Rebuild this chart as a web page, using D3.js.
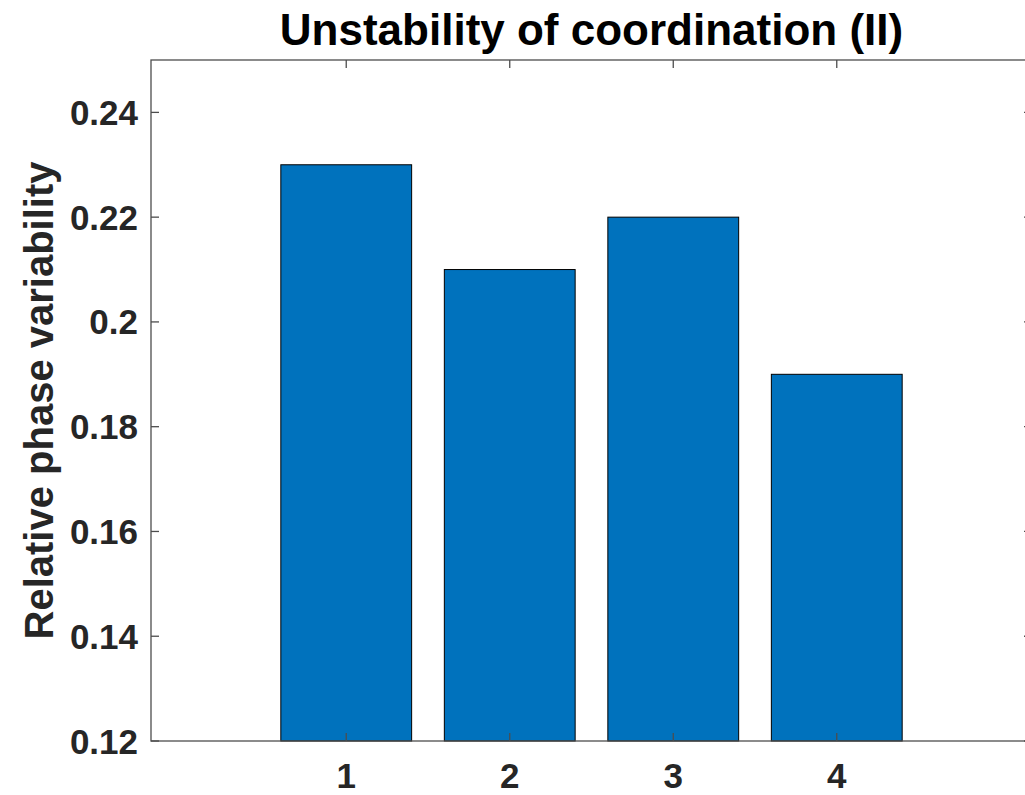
<!DOCTYPE html>
<html><head><meta charset="utf-8">
<script src="https://cdn.jsdelivr.net/npm/d3@7"></script>
<style>body{margin:0;background:#fff;overflow:hidden}svg{display:block}text{font-family:"Liberation Sans",Arial,Helvetica,sans-serif;font-weight:bold}</style>
</head><body>
<script>
const categories = [1, 2, 3, 4];
const values = [0.23, 0.21, 0.22, 0.19];
const yTicks = [0.12, 0.14, 0.16, 0.18, 0.2, 0.22, 0.24];
const yTickLabels = ["0.12", "0.14", "0.16", "0.18", "0.2", "0.22", "0.24"];
const title = "Unstability of coordination (II)";
const yLabel = "Relative phase variability";

const W = 1025, H = 795;
const L = 151, R = 1032, T = 60, B = 741;
const svg = d3.select("body").append("svg").attr("width", W).attr("height", H);

const x = d3.scaleLinear().domain([-0.194, 5.194]).range([L, R]);
const y = d3.scaleLinear().domain([0.12, 0.25]).range([B, T]);
const bw = x(0.8) - x(0);

svg.append("g").selectAll("rect").data(categories).join("rect")
  .attr("x", (d) => x(d) - bw / 2)
  .attr("y", (d, i) => y(values[i]))
  .attr("width", bw)
  .attr("height", (d, i) => y(0.12) - y(values[i]))
  .attr("fill", "#0072BD")
  .attr("stroke", "#000")
  .attr("stroke-width", 1);

const axColor = "#4d4d4d";
const tl = 8;
// box
svg.append("rect").attr("x", L).attr("y", T).attr("width", R - L).attr("height", B - T)
  .attr("fill", "none").attr("stroke", axColor).attr("stroke-width", 1.3);

// ticks inward
const g = svg.append("g").attr("stroke", axColor).attr("stroke-width", 1.3);
yTicks.forEach(t => {
  g.append("line").attr("x1", L).attr("x2", L + tl).attr("y1", y(t)).attr("y2", y(t));
  g.append("line").attr("x1", R).attr("x2", R - tl).attr("y1", y(t)).attr("y2", y(t));
});
categories.forEach(c => {
  g.append("line").attr("x1", x(c)).attr("x2", x(c)).attr("y1", B).attr("y2", B - tl);
  g.append("line").attr("x1", x(c)).attr("x2", x(c)).attr("y1", T).attr("y2", T + tl);
});

// tick labels
svg.append("g").selectAll("text").data(yTicks).join("text")
  .attr("x", 138).attr("y", (d) => y(d) + 12.5)
  .attr("text-anchor", "end").attr("font-size", 35).attr("fill", "#262626")
  .text((d, i) => yTickLabels[i]);
svg.append("g").selectAll("text").data(categories).join("text")
  .attr("x", (d) => x(d)).attr("y", 788)
  .attr("text-anchor", "middle").attr("font-size", 35).attr("fill", "#262626")
  .text((d) => d);

svg.append("text").attr("x", (L + R) / 2).attr("y", 45).attr("text-anchor", "middle")
  .attr("font-size", 44).attr("fill", "#000").text(title);

svg.append("text").attr("transform", `translate(53,${(T + B) / 2}) rotate(-90)`)
  .attr("text-anchor", "middle").attr("font-size", 40).attr("fill", "#262626").text(yLabel);
</script>
</body></html>
